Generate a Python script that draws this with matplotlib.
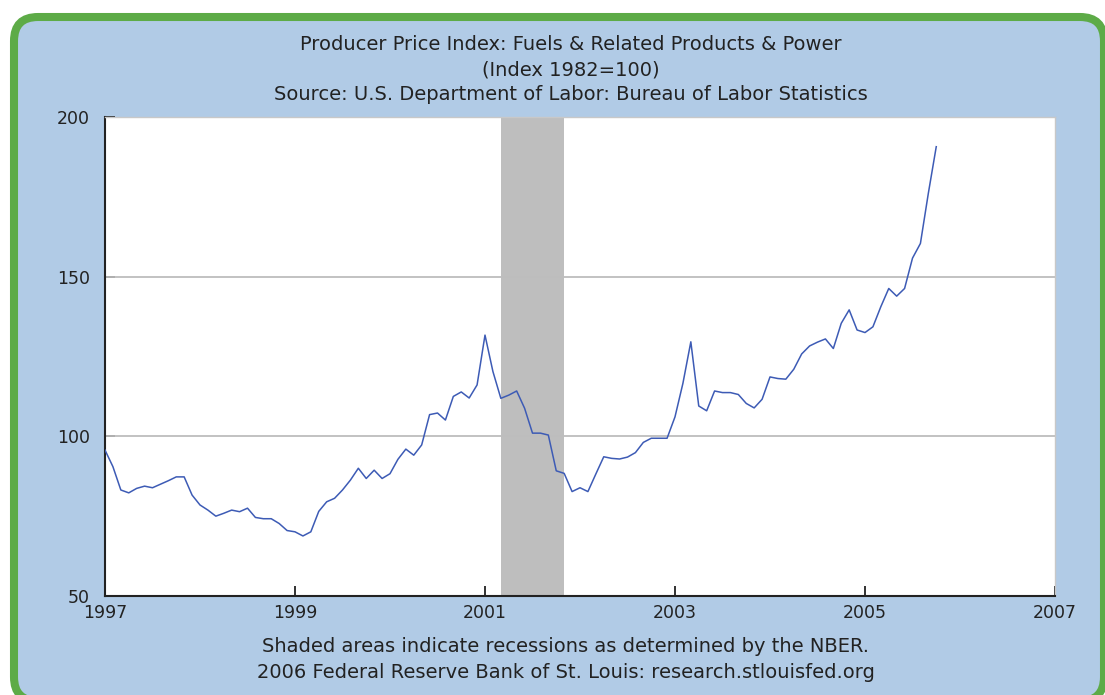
import matplotlib
matplotlib.use("Agg")
import matplotlib.pyplot as plt
from matplotlib.patches import FancyBboxPatch
import numpy as np

# ---- data (monthly, Jan 1997 - Oct 2005) ----
start_year = 1997
ppi_values = [
    95.7, 90.5, 83.2, 82.3, 83.7, 84.4, 83.9, 85.0, 86.1, 87.3, 87.3, 81.6,      # 1997
    78.5, 76.9, 75.0, 75.9, 76.9, 76.4, 77.5, 74.6, 74.2, 74.2, 72.7, 70.5,      # 1998
    70.1, 68.8, 70.1, 76.5, 79.5, 80.6, 83.2, 86.3, 90.0, 86.8, 89.4, 86.8,      # 1999
    88.3, 92.8, 96.0, 94.1, 97.3, 106.8, 107.3, 105.1, 112.5, 113.9, 112.0, 116.1,  # 2000
    131.7, 120.3, 111.9, 112.9, 114.2, 108.8, 101.0, 101.0, 100.4, 89.2, 88.4, 82.7,  # 2001
    83.9, 82.7, 88.2, 93.6, 93.1, 92.9, 93.5, 94.9, 98.1, 99.4, 99.4, 99.4,      # 2002
    106.1, 116.6, 129.6, 109.5, 108.0, 114.2, 113.7, 113.7, 113.1, 110.3, 108.9, 111.6,  # 2003
    118.6, 118.1, 117.9, 121.0, 125.8, 128.3, 129.5, 130.5, 127.5, 135.4, 139.6, 133.3,  # 2004
    132.5, 134.3, 140.6, 146.3, 143.9, 146.3, 155.8, 160.4, 176.1, 190.7,        # 2005
]
recession_start = 2001 + 2 / 12   # Mar 2001
recession_end = 2001 + 10 / 12    # Nov 2001
x_ticks = [1997, 1999, 2001, 2003, 2005, 2007]
y_ticks = [50, 100, 150, 200]

title_lines = [
    "Producer Price Index: Fuels & Related Products & Power",
    "(Index 1982=100)",
    "Source: U.S. Department of Labor: Bureau of Labor Statistics",
]
footer_lines = [
    "Shaded areas indicate recessions as determined by the NBER.",
    "2006 Federal Reserve Bank of St. Louis: research.stlouisfed.org",
]

dates = start_year + np.arange(len(ppi_values)) / 12.0

W, H = 1105, 695
fig = plt.figure(figsize=(W / 100, H / 100), dpi=100)
fig.patch.set_facecolor("white")

# background panel with rounded green border (pixel coordinates)
bg = fig.add_axes([0, 0, 1, 1], zorder=0)
bg.set_xlim(0, W)
bg.set_ylim(H, 0)
bg.axis("off")
panel = FancyBboxPatch((14, 17), 1090, 684,
                       boxstyle="round,pad=0,rounding_size=24",
                       facecolor="#b1cbe6", edgecolor="#5dab47",
                       linewidth=5.8, zorder=0)
bg.add_patch(panel)

# main axes
left, right, top, bottom = 105, 1055, 117, 596
ax = fig.add_axes([left / W, 1 - bottom / H, (right - left) / W, (bottom - top) / H], zorder=2)
ax.set_facecolor("white")

ax.axvspan(recession_start, recession_end, color="#bebebe", lw=0, zorder=1)
for yv in y_ticks[1:]:
    ax.axhline(yv, color="#bdbdbd", lw=1.3, zorder=2)

ax.plot(dates, ppi_values, color="#3d5bb5", lw=1.1, zorder=3)

ax.set_xlim(1997, 2007)
ax.set_ylim(50, 200)
ax.set_xticks(x_ticks)
ax.set_xticklabels([str(t) for t in x_ticks])
ax.set_yticks(y_ticks)
ax.set_yticklabels([str(t) for t in y_ticks])

ax.tick_params(axis="both", direction="in", length=7, width=1.3, color="#222222",
               labelsize=12.5, labelcolor="#222222")
ax.tick_params(axis="y", pad=11)
ax.tick_params(axis="x", pad=6)

for side in ["left", "bottom"]:
    ax.spines[side].set_color("#222222")
    ax.spines[side].set_linewidth(1.5)
for side in ["top", "right"]:
    ax.spines[side].set_color("#c8c8c8")
    ax.spines[side].set_linewidth(1.0)

for txt, yy in zip(title_lines, [45, 70, 94]):
    fig.text(571 / W, 1 - yy / H, txt, ha="center", va="center",
             fontsize=14, color="#222222")
for txt, yy in zip(footer_lines, [647, 672]):
    fig.text(566 / W, 1 - yy / H, txt, ha="center", va="center",
             fontsize=14, color="#222222")

fig.savefig("out.png", dpi=100)
